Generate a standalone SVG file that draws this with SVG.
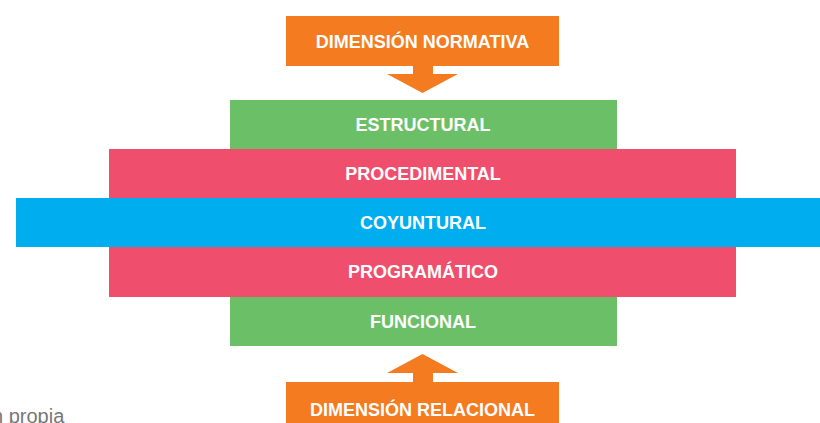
<svg xmlns="http://www.w3.org/2000/svg" width="820" height="423" viewBox="0 0 820 423">
  <style>
    .lbl { font-family: "Liberation Sans", Arial, sans-serif; font-weight: bold; font-size: 18px; fill: #ffffff; text-anchor: middle; }
    .orange { fill: #F47B20; }
    .green { fill: #6BBF67; }
    .pink { fill: #EF4F6C; }
    .blue { fill: #00AEEF; }
    .note { font-family: "Liberation Sans", Arial, sans-serif; font-size: 20px; fill: #777777; }
  </style>
  <rect width="820" height="423" fill="#ffffff"/>

  <g id="connectors">
    <!-- downward arrow from the normative dimension -->
    <polygon class="orange" points="413,65 433,65 433,74 458,74 422.5,93 387,74 413,74"/>
    <!-- upward arrow from the relational dimension -->
    <polygon class="orange" points="413,383 433,383 433,373 458,373 422.5,354 387,373 413,373"/>
  </g>

  <g id="dimension-normativa">
    <rect class="orange" x="286" y="16" width="273" height="50"/>
    <text class="lbl" x="422.5" y="48">DIMENSIÓN NORMATIVA</text>
  </g>

  <g id="estructural">
    <rect class="green" x="230" y="100" width="387" height="49"/>
    <text class="lbl" x="423" y="131">ESTRUCTURAL</text>
  </g>

  <g id="procedimental">
    <rect class="pink" x="109" y="149" width="627" height="49"/>
    <text class="lbl" x="423" y="180">PROCEDIMENTAL</text>
  </g>

  <g id="coyuntural">
    <rect class="blue" x="16" y="198" width="804" height="49"/>
    <text class="lbl" x="423" y="229">COYUNTURAL</text>
  </g>

  <g id="programatico">
    <rect class="pink" x="109" y="247" width="627" height="50"/>
    <text class="lbl" x="423" y="278">PROGRAMÁTICO</text>
  </g>

  <g id="funcional">
    <rect class="green" x="230" y="297" width="387" height="49"/>
    <text class="lbl" x="423" y="328">FUNCIONAL</text>
  </g>

  <g id="dimension-relacional">
    <rect class="orange" x="286" y="382" width="273" height="50"/>
    <text class="lbl" x="422.5" y="416">DIMENSIÓN RELACIONAL</text>
  </g>

  <text class="note" x="-8" y="422.5">n propia</text>
</svg>
